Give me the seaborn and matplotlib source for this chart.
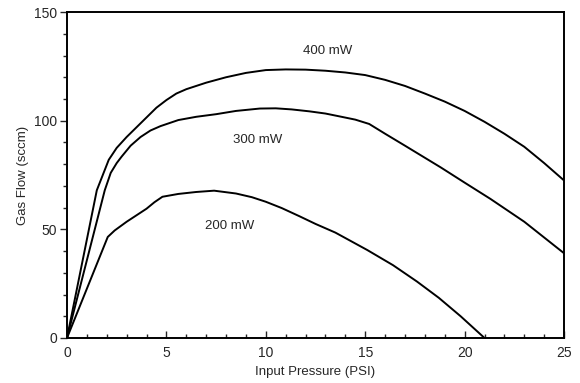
import matplotlib
matplotlib.use("Agg")
import matplotlib.pyplot as plt
import seaborn as sns
import pandas as pd
from matplotlib.ticker import MultipleLocator

sns.set_style("ticks")
plt.rcParams['font.family'] = ['Liberation Sans', 'DejaVu Sans']

x_400 = [0, 1.5, 1.8, 2.1, 2.5, 3, 3.5, 4, 4.5, 5, 5.5, 6, 7, 8, 9, 10, 11, 12, 13, 14,
         15, 16, 17, 18, 19, 20, 21, 22, 23, 24, 25]
y_400 = [0, 68, 75, 82, 87.5, 92.5, 97, 101.5, 106, 109.5, 112.5, 114.5, 117.5, 120, 122,
         123.3, 123.6, 123.5, 123, 122.2, 121, 118.8, 116, 112.5, 108.8, 104.5, 99.5, 94,
         88, 80.5, 72.5]

x_300 = [0, 1.9, 2.2, 2.5, 2.75, 3.2, 3.7, 4.2, 4.7, 5.6, 6.5, 7.5, 8.5, 9.7, 10.5, 11.3,
         12.2, 13, 13.7, 14.5, 15.2, 16, 17, 18.8, 20, 21.3, 23, 25]
y_300 = [0, 68, 76, 80.5, 83.5, 88.5, 92.5, 95.5, 97.5, 100.3, 101.8, 103, 104.5, 105.6,
         105.7, 105.2, 104.3, 103.3, 102, 100.5, 98.5, 94, 88.5, 78.5, 71.5, 64, 53.5, 39]

x_200 = [0, 2.05, 2.4, 3, 3.5, 4, 4.4, 4.8, 5.6, 6.5, 7.4, 8.5, 9.3, 10, 10.8, 11.7, 12.5,
         13.5, 14.3, 15.1, 16.4, 17.6, 18.7, 19.8, 20.4, 21]
y_200 = [0, 46.5, 49.5, 53.5, 56.5, 59.5, 62.5, 65, 66.3, 67.2, 67.8, 66.5, 64.8, 62.7,
         59.8, 56, 52.5, 48.5, 44.5, 40.5, 33.5, 26, 18.5, 10, 5, 0]

labels = ["400 mW", "300 mW", "200 mW"]
label_x = [13.1, 9.6, 8.2]
label_y = [132, 91, 51.5]

fig = plt.figure(figsize=(5.8, 3.83), dpi=100)
ax = fig.add_axes([0.1155, 0.1175, 0.857, 0.851])

for xs, ys in [(x_400, y_400), (x_300, y_300), (x_200, y_200)]:
    df = pd.DataFrame({"x": xs, "y": ys})
    sns.lineplot(data=df, x="x", y="y", ax=ax, color="black", linewidth=1.4, sort=False,
                 estimator=None)

for t, lx, ly in zip(labels, label_x, label_y):
    ax.text(lx, ly, t, ha="center", va="center", fontsize=9.5)

ax.set_xlim(0, 25)
ax.set_ylim(0, 150)
ax.xaxis.set_major_locator(MultipleLocator(5))
ax.xaxis.set_minor_locator(MultipleLocator(1))
ax.yaxis.set_major_locator(MultipleLocator(50))
ax.yaxis.set_minor_locator(MultipleLocator(10))
ax.tick_params(axis="x", which="both", direction="in", labelsize=10, pad=6)
ax.tick_params(axis="x", which="major", length=5, width=1)
ax.tick_params(axis="x", which="minor", length=3, width=1)
ax.tick_params(axis="y", which="both", direction="out", labelsize=10, pad=2)
ax.tick_params(axis="y", which="major", length=5, width=1)
ax.tick_params(axis="y", which="minor", length=3, width=1)
for s in ax.spines.values():
    s.set_visible(True)
    s.set_linewidth(1.4)
    s.set_color("black")

ax.set_xlabel("Input Pressure (PSI)", fontsize=9.5, labelpad=4)
ax.set_ylabel("Gas Flow (sccm)", fontsize=9.5, labelpad=4)

fig.savefig("out.png", dpi=100)
